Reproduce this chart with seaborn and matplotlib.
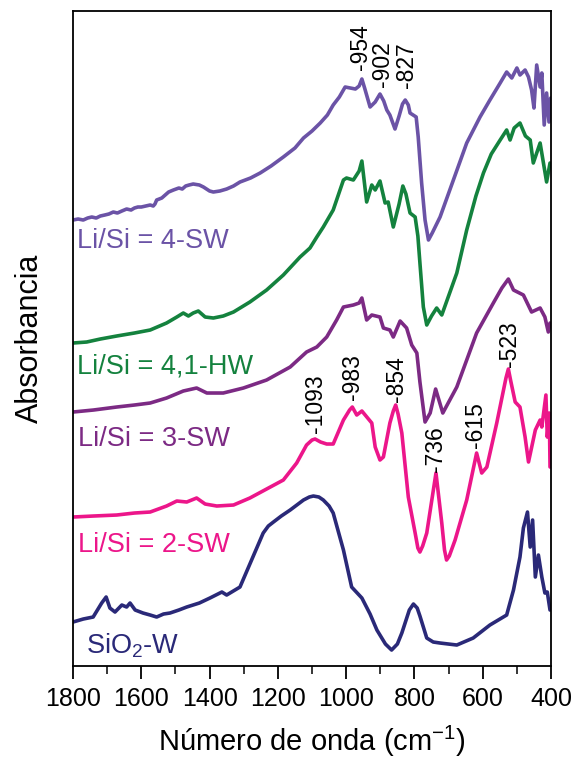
import numpy as np
import pandas as pd
import matplotlib
matplotlib.use("Agg")
import matplotlib.pyplot as plt
import seaborn as sns

# ---- FTIR spectra (wavenumber in cm-1, absorbance in arbitrary offset units) ----
wn_4sw = [1800, 1785, 1770, 1757, 1745, 1732, 1720, 1707, 1695, 1682, 1670, 1657, 1643, 1630,
          1620, 1610, 1600, 1587, 1574, 1565, 1560, 1555, 1540, 1530, 1520, 1506, 1490, 1480,
          1470, 1460, 1448, 1430, 1418, 1400, 1389, 1370, 1350, 1330, 1311, 1280, 1252, 1220,
          1184, 1150, 1125, 1100, 1076, 1055, 1038, 1020, 1003, 988, 973, 962, 954, 946, 930,
          915, 901, 890, 881, 872, 857, 845, 835, 827, 818, 813, 795, 789, 779, 769, 759, 748,
          725, 686, 647, 608, 579, 549, 530, 515, 500, 491, 476, 466, 457, 450, 442, 432, 427,
          420, 413, 406, 401]
ab_4sw = [4.46, 4.47, 4.46, 4.48, 4.49, 4.48, 4.50, 4.51, 4.52, 4.54, 4.53, 4.55, 4.57, 4.56,
          4.58, 4.59, 4.59, 4.60, 4.61, 4.60, 4.62, 4.66, 4.68, 4.71, 4.74, 4.76, 4.78, 4.77,
          4.80, 4.81, 4.82, 4.81, 4.79, 4.75, 4.74, 4.75, 4.77, 4.80, 4.84, 4.88, 4.93, 5.00,
          5.09, 5.18, 5.28, 5.35, 5.43, 5.51, 5.61, 5.69, 5.79, 5.78, 5.77, 5.80, 5.87, 5.78,
          5.59, 5.64, 5.72, 5.65, 5.56, 5.51, 5.37, 5.50, 5.62, 5.66, 5.61, 5.53, 5.49, 5.29,
          4.83, 4.46, 4.26, 4.33, 4.49, 4.86, 5.23, 5.49, 5.66, 5.83, 5.94, 5.88, 5.98, 5.91,
          5.96, 5.89, 5.76, 5.58, 6.01, 5.79, 5.93, 5.41, 5.73, 5.44, 5.68]

wn_41hw = [1800, 1760, 1720, 1672, 1620, 1574, 1526, 1496, 1477, 1462, 1448, 1433, 1413, 1389,
           1360, 1330, 1282, 1233, 1184, 1135, 1106, 1086, 1067, 1038, 1008, 999, 979, 962, 954,
           940, 925, 915, 901, 886, 877, 862, 845, 834, 825, 813, 798, 790, 784, 774, 764, 750,
           735, 720, 676, 647, 620, 598, 575, 549, 530, 520, 508, 491, 475, 461, 452, 432, 413,
           403]
ab_41hw = [3.23, 3.24, 3.27, 3.30, 3.33, 3.36, 3.43, 3.49, 3.53, 3.50, 3.53, 3.55, 3.49, 3.48,
           3.50, 3.54, 3.64, 3.76, 3.91, 4.09, 4.18, 4.29, 4.39, 4.56, 4.86, 4.88, 4.86, 4.95,
           5.05, 4.64, 4.81, 4.76, 4.85, 4.63, 4.64, 4.39, 4.62, 4.80, 4.72, 4.53, 4.49, 4.30,
           4.03, 3.59, 3.41, 3.50, 3.58, 3.51, 3.93, 4.36, 4.70, 4.93, 5.12, 5.26, 5.36, 5.26,
           5.38, 5.43, 5.30, 5.26, 5.03, 5.23, 4.84, 5.03]

wn_3sw = [1800, 1740, 1672, 1620, 1574, 1526, 1477, 1438, 1408, 1360, 1301, 1233, 1164, 1116,
          1086, 1057, 1028, 1008, 979, 962, 954, 940, 925, 901, 891, 872, 862, 842, 823, 808,
          793, 784, 769, 754, 738, 717, 676, 618, 569, 544, 525, 510, 481, 457, 432, 418, 408,
          403]
ab_3sw = [2.54, 2.56, 2.59, 2.61, 2.63, 2.68, 2.75, 2.78, 2.73, 2.73, 2.78, 2.86, 2.99, 3.14,
          3.19, 3.29, 3.46, 3.59, 3.61, 3.63, 3.68, 3.46, 3.51, 3.49, 3.38, 3.36, 3.29, 3.45,
          3.38, 3.21, 3.13, 2.84, 2.44, 2.53, 2.77, 2.53, 2.79, 3.33, 3.63, 3.78, 3.87, 3.76,
          3.71, 3.54, 3.58, 3.49, 3.34, 3.43]

wn_2sw = [1800, 1740, 1672, 1620, 1574, 1526, 1496, 1467, 1438, 1413, 1379, 1330, 1282, 1233,
          1184, 1145, 1116, 1100, 1091, 1075, 1057, 1038, 1008, 990, 982, 969, 954, 925, 915,
          901, 891, 872, 862, 855, 848, 837, 818, 798, 790, 784, 776, 764, 737, 720, 712, 706,
          698, 681, 647, 618, 603, 588, 559, 532, 525, 518, 505, 491, 476, 466, 446, 432, 427,
          415, 411, 405, 403]
ab_2sw = [1.49, 1.50, 1.51, 1.53, 1.54, 1.60, 1.65, 1.64, 1.68, 1.62, 1.60, 1.61, 1.68, 1.77,
          1.86, 2.03, 2.21, 2.26, 2.27, 2.24, 2.22, 2.22, 2.46, 2.56, 2.59, 2.51, 2.55, 2.43,
          2.19, 2.06, 2.09, 2.43, 2.55, 2.61, 2.52, 2.33, 1.69, 1.33, 1.18, 1.14, 1.20, 1.33,
          1.93, 1.43, 1.16, 1.06, 1.10, 1.26, 1.66, 2.13, 1.93, 1.99, 2.43, 2.88, 2.97, 2.85,
          2.64, 2.59, 2.29, 2.04, 2.36, 2.46, 2.39, 2.71, 2.29, 2.53, 1.99]

wn_sio2 = [1800, 1770, 1741, 1716, 1703, 1692, 1677, 1657, 1643, 1633, 1618, 1595, 1574, 1555,
           1535, 1516, 1490, 1467, 1430, 1399, 1364, 1350, 1311, 1277, 1243, 1228, 1213, 1190,
           1164, 1125, 1108, 1096, 1080, 1067, 1050, 1038, 1008, 984, 954, 930, 910, 885, 867,
           850, 837, 815, 803, 792, 784, 764, 745, 725, 676, 628, 579, 530, 510, 491, 481, 469,
           461, 454, 446, 437, 427, 418, 411, 403]
ab_sio2 = [0.44, 0.47, 0.49, 0.63, 0.69, 0.58, 0.54, 0.61, 0.59, 0.63, 0.56, 0.53, 0.51, 0.49,
           0.52, 0.53, 0.56, 0.59, 0.63, 0.68, 0.74, 0.71, 0.79, 1.06, 1.33, 1.40, 1.44, 1.50,
           1.56, 1.66, 1.69, 1.70, 1.69, 1.66, 1.60, 1.53, 1.16, 0.79, 0.68, 0.52, 0.36, 0.22,
           0.16, 0.22, 0.33, 0.56, 0.62, 0.58, 0.50, 0.28, 0.24, 0.23, 0.21, 0.28, 0.41, 0.51,
           0.76, 1.09, 1.38, 1.54, 1.19, 1.46, 0.89, 1.11, 0.89, 0.73, 0.74, 0.56]

sample_names = ["Li/Si = 4-SW", "Li/Si = 4,1-HW", "Li/Si = 3-SW", "Li/Si = 2-SW", r"SiO$_2$-W"]
sample_colors = ["#6b53a6", "#14823e", "#7c2a84", "#ec168a", "#2a2978"]

# peak annotations: (text, wavenumber position, absorbance position)
peak_text = ["-954", "-902", "-827", "-1093", "-983", "-854", "-736", "-615", "-523"]
peak_wn = [959, 893, 823, 1089, 981, 852, 737, 620, 523]
peak_ab = [5.96, 5.79, 5.78, 2.33, 2.66, 2.64, 1.94, 2.18, 2.99]

# sample label anchor points (left edge, baseline)
name_wn = [1788, 1788, 1785, 1785, 1762]
name_ab = [4.18, 2.93, 2.20, 1.14, 0.13]

series = [(wn_4sw, ab_4sw), (wn_41hw, ab_41hw), (wn_3sw, ab_3sw),
          (wn_2sw, ab_2sw), (wn_sio2, ab_sio2)]

sns.set_theme(style="ticks")
plt.rcParams["font.family"] = ["Liberation Sans", "DejaVu Sans"]
plt.rcParams["mathtext.default"] = "regular"

fig = plt.figure(figsize=(5.74, 7.59), dpi=100)
ax = fig.add_axes([0.1272, 0.1225, 0.8328, 0.8634])

for (x, y), col in zip(series, sample_colors):
    df = pd.DataFrame({"wn": x, "ab": y})
    sns.lineplot(data=df, x="wn", y="ab", sort=False, estimator=None,
                 color=col, linewidth=2.6, ax=ax)
for line in ax.lines:
    line.set_solid_joinstyle("round")
    line.set_solid_capstyle("round")

for name, col, xw, ya in zip(sample_names, sample_colors, name_wn, name_ab):
    ax.text(xw, ya, name, color=col, fontsize=19.5, ha="left", va="baseline")

for t, xw, ya in zip(peak_text, peak_wn, peak_ab):
    ax.text(xw, ya, t, rotation=90, fontsize=16.5, ha="center", va="bottom", color="black")

ax.set_xlim(1800, 400)
ax.set_ylim(0, 6.553)
ax.set_xticks(np.arange(400, 1801, 200))
ax.set_xticks(np.arange(500, 1800, 200), minor=True)
ax.set_yticks([])
ax.tick_params(axis="x", which="major", direction="out", length=9, width=1.3,
               labelsize=18, pad=6, colors="black")
ax.tick_params(axis="x", which="minor", direction="out", length=5.5, width=1.3)
for s in ax.spines.values():
    s.set_visible(True)
    s.set_color("black")
    s.set_linewidth(1.3)

ax.set_xlabel("Número de onda (cm$^{-1}$)", fontsize=21, labelpad=9, color="black")
ax.set_ylabel("Absorbancia", fontsize=22, labelpad=20, color="black")

fig.savefig("out.png", dpi=100)
